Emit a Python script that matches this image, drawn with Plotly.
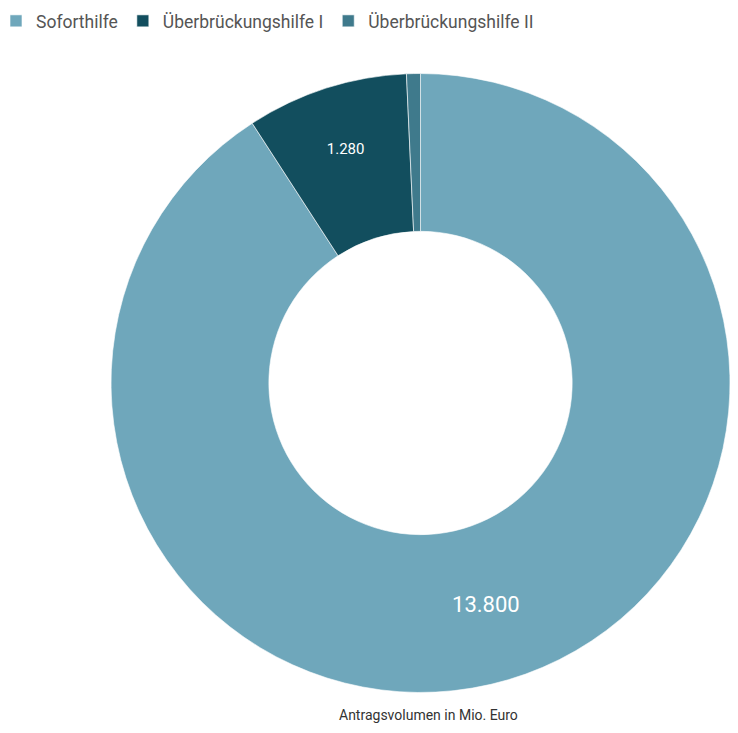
import plotly.graph_objects as go

labels = ["Soforthilfe", "Überbrückungshilfe I", "Überbrückungshilfe II"]
values = [13800, 1280, 110]
text_labels = ["13.800", "1.280", ""]
colors = ["#6fa7bb", "#124e5e", "#3f7a8c"]

fig = go.Figure(go.Pie(
    labels=labels,
    values=values,
    text=text_labels,
    textinfo="text",
    textposition="inside",
    insidetextorientation="horizontal",
    textfont=dict(color="white", size=[22, 15, 10], family="Roboto"),
    marker=dict(colors=colors, line=dict(color="white", width=0.6)),
    hole=0.49,
    sort=False,
    direction="clockwise",
    rotation=0,
    domain=dict(x=[0.1427, 1.0], y=[0.0377, 0.9163]),
))

fig.update_layout(
    width=722, height=717,
    margin=dict(l=0, r=0, t=0, b=0, autoexpand=False),
    paper_bgcolor="white",
    plot_bgcolor="white",
    font=dict(family="Roboto", color="#555555"),
    showlegend=True,
    legend=dict(orientation="h", x=-0.0166, y=1.007, xanchor="left", yanchor="top",
                font=dict(size=17.5, color="#555555"), traceorder="normal"),
    annotations=[dict(text="Antragsvolumen in Mio. Euro", x=0.582, xanchor="center",
                      y=0.0, yanchor="bottom", xref="paper", yref="paper",
                      showarrow=False, font=dict(size=14, color="#333333"))],
)

fig.write_html("out.html")
